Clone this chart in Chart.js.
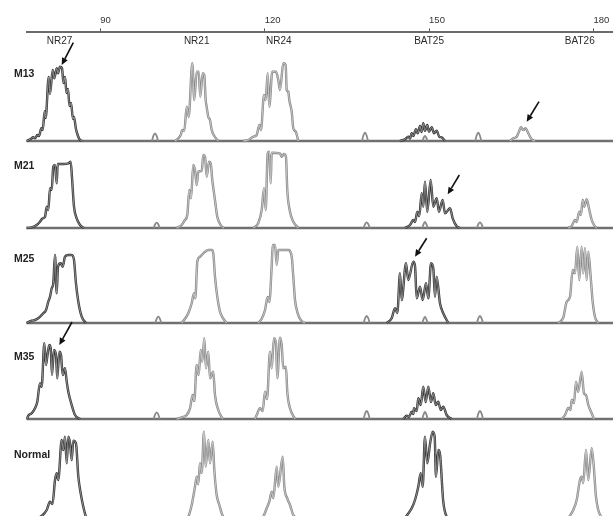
<!DOCTYPE html>
<html><head><meta charset="utf-8">
<script src="https://cdn.jsdelivr.net/npm/chart.js@4.4.1/dist/chart.umd.min.js"></script>
<style>
html,body{margin:0;padding:0;background:#fff;width:613px;height:516px;overflow:hidden;}
#wrap{position:relative;width:613px;height:516px;}
#wrap canvas{position:absolute;}
.lbl{position:absolute;left:14px;font:bold 10.5px "Liberation Sans",Arial,sans-serif;color:#222;line-height:12px;white-space:nowrap;}
</style></head><body><div id="wrap"></div>
<script>
// ---------- axis / labels ----------
const tickValues = [90, 120, 150, 180];
const markerNames = ['NR27', 'NR21', 'NR24', 'BAT25', 'BAT26'];
const markerPos = [82.6, 107.6, 122.6, 150.0, 177.5];
const panelNames = ['M13', 'M21', 'M25', 'M35', 'Normal'];

// ---------- traces: [size (bp), height] ----------
const M13_NR27 = [[76.51,0],[77.25,2],[77.72,3.7],[78.03,2.7],[78.45,6],[78.76,5],[79.18,12.7],[79.44,11],[79.80,29.7],[79.98,23],[80.53,64],[80.77,47],[81.26,71],[81.55,62.7],[81.99,72.7],[82.23,67.7],[82.59,74.3],[82.96,72.7],[83.23,58],[83.51,64],[83.78,48],[84.05,52],[84.33,35],[84.60,38],[84.97,22],[85.15,24],[85.51,12],[85.88,5],[86.25,1],[86.61,0]];
const M13_NR21 = [[103.59,0],[104.19,2.7],[104.63,6],[104.92,11],[105.29,10.3],[105.73,34.3],[106.09,24.3],[106.75,77.7],[107.11,41],[107.55,69.3],[107.92,69.3],[108.21,44.3],[108.65,67.7],[108.94,66],[109.19,41],[109.38,34],[109.67,24],[109.98,21],[110.29,11],[110.89,4],[111.50,0]];
const M13_NR24 = [[116.06,0],[116.97,1],[117.89,4.3],[118.51,6],[118.98,16],[119.29,11],[119.84,46],[120.15,41],[120.51,67.7],[120.81,34.3],[121.35,69.3],[122.03,69.3],[122.45,61],[122.76,51],[123.36,77.7],[123.80,76],[123.98,51],[124.28,49.3],[124.46,41],[124.90,29.3],[125.19,12.7],[125.63,9.3],[126.10,0]];
const M13_BAT25 = [[144.67,0],[145.58,1.7],[146.18,4.3],[146.49,2.5],[146.80,7.7],[147.10,5],[147.59,11.7],[147.90,7.7],[148.32,15],[148.63,9],[148.92,17.7],[149.23,10.3],[149.65,16],[149.96,9.3],[150.46,13.7],[150.88,7.7],[151.37,10.3],[151.84,4.3],[152.28,3.7],[152.88,0]];
const M13_BAT26 = [[164.75,0],[165.35,2.7],[165.97,4.3],[166.39,9.3],[166.76,13.7],[167.18,11],[167.61,12.7],[168.09,7.7],[168.71,1.7],[169.32,0]];
const M13_LADDER = [[[99.39,0],[99.66,5.4],[99.94,7.7],[100.22,5.4],[100.49,0]],[[137.73,0],[138.00,5.8],[138.28,8.3],[138.56,5.8],[138.83,0]],[[148.78,0],[149.01,3.5],[149.23,5],[149.45,3.5],[149.68,0]],[[158.41,0],[158.68,5.8],[158.96,8.3],[159.24,5.8],[159.51,0]]];
const M13_ARROWS = [[85.02,98.3,82.90,76],[170.05,39.3,167.80,19.3]];

const M21_NR27 = [[76.51,0],[77.43,0.7],[78.34,3],[78.94,6.3],[79.44,9.7],[79.86,11.3],[80.17,21.3],[80.46,18],[80.77,39.7],[81.08,38],[81.37,61.3],[81.68,63],[81.99,44.7],[82.17,64],[83.20,64],[84.11,64.7],[84.55,66.3],[84.79,50],[85.15,21.3],[85.64,9.7],[86.25,3],[86.98,0]];
const M21_NR21 = [[103.90,0],[104.81,3],[105.42,8],[105.84,13],[106.20,38],[106.51,29.7],[106.93,63],[107.24,58],[107.55,43],[107.84,56.3],[108.47,57.3],[108.76,73],[109.07,71.3],[109.38,51.3],[109.80,66.3],[110.11,64.7],[110.40,48],[110.89,28],[111.31,11.3],[111.93,3],[112.54,0]];
const M21_NR24 = [[117.89,0],[118.80,5],[119.42,18],[119.84,39.7],[120.15,18],[120.51,74.7],[120.81,76.3],[121.06,44.7],[121.24,75.3],[122.76,74.7],[123.07,71.3],[123.49,74],[123.85,71.3],[124.09,38],[124.59,16.3],[125.19,6.3],[126.10,0]];
const M21_BAT25 = [[145.58,0],[146.49,3],[147.10,8],[147.41,6],[147.83,16.3],[148.19,12],[148.63,34.7],[148.92,21.3],[149.23,46.3],[149.65,16.3],[150.27,48],[150.75,21.3],[151.37,29.7],[151.79,16.3],[152.46,28],[152.88,14.7],[153.80,19.7],[154.29,9.7],[155.02,1.7],[155.62,0]];
const M21_BAT26 = [[175.40,0],[176.02,2],[176.62,8],[176.93,6],[177.40,16.3],[177.71,13],[178.02,28],[178.32,21.3],[178.75,28.7],[179.17,19.7],[179.67,8],[180.09,3],[180.58,0]];
const M21_LADDER = [[[99.70,0],[99.97,3.7],[100.25,5.3],[100.53,3.7],[100.80,0]],[[138.04,0],[138.31,4],[138.59,5.7],[138.87,4],[139.14,0]],[[148.73,0],[149.00,4.2],[149.23,6],[149.46,4.2],[149.73,0]],[[158.72,0],[158.99,4],[159.27,5.7],[159.55,4],[159.82,0]]];
const M21_ARROWS = [[155.50,53,153.38,33.7]];

const M25_NR27 = [[76.51,0],[77.43,2.3],[78.03,3],[78.63,4.7],[79.07,7],[79.55,9.7],[80.04,13],[80.46,21.3],[80.77,26.3],[81.08,34.7],[81.37,39.7],[81.68,68],[81.99,29.7],[82.23,56.3],[82.72,59.7],[83.09,56.3],[83.51,66.3],[84.11,68],[84.73,68],[85.15,63],[85.51,39.7],[85.94,21.3],[86.56,6.3],[87.34,0]];
const M25_NR21 = [[104.81,0],[105.42,4.3],[106.02,9.7],[106.64,19.7],[107.06,29.7],[107.30,24.7],[107.66,61.3],[108.15,66.3],[108.76,69.7],[109.67,73],[110.29,73],[110.58,69.7],[110.89,46.3],[111.31,26.3],[111.81,11.3],[112.41,4.3],[113.03,0]];
const M25_NR24 = [[118.80,0],[119.42,4.3],[120.02,12.7],[120.51,26],[120.81,21],[121.24,56.3],[121.43,78],[121.85,78],[122.16,58],[122.45,73],[124.28,73],[124.90,66.3],[125.19,46.3],[125.50,23],[125.99,9.7],[126.59,2.7],[127.32,0]];
const M25_BAT25 = [[142.24,0],[143.15,4.7],[143.76,14.7],[144.18,10],[144.67,49.7],[144.98,23],[145.76,59.7],[146.18,43],[147.10,61.3],[147.41,57],[147.72,24.7],[148.32,36.3],[148.81,23],[149.42,39.7],[149.84,24.7],[150.33,59.7],[150.75,54.7],[151.06,26.3],[151.37,46.3],[151.97,19.7],[152.57,9.7],[153.49,0]];
const M25_BAT26 = [[173.57,0],[174.48,5.3],[175.10,21.3],[175.71,26.3],[176.20,53],[176.62,49.7],[177.04,76.3],[177.40,43],[177.84,76.3],[178.13,49.7],[178.44,74.7],[178.75,43],[179.05,71.3],[179.48,46.3],[179.85,21.3],[180.27,6],[180.87,0]];
const M25_LADDER = [[[99.99,0],[100.26,4.4],[100.54,6.3],[100.82,4.4],[101.09,0]],[[138.04,0],[138.31,4.9],[138.59,7],[138.87,4.9],[139.14,0]],[[148.73,0],[149.00,4.2],[149.23,6],[149.46,4.2],[149.73,0]],[[158.72,0],[158.99,4.9],[159.27,7],[159.55,4.9],[159.82,0]]];
const M25_ARROWS = [[149.54,84.7,147.41,66.3]];

const M35_NR27 = [[76.57,0],[76.81,3.3],[77.43,5.7],[78.03,10.7],[78.45,17.3],[78.94,35.7],[79.25,32.3],[79.73,75.7],[80.04,54],[80.35,65.7],[80.64,74],[80.90,70.7],[81.13,44],[81.50,69],[81.86,64],[82.10,40.7],[82.47,67.3],[82.78,64],[83.09,44],[83.51,50.7],[83.82,37.3],[84.11,27.3],[84.73,14],[85.33,4],[86.25,0]];
const M35_NR21 = [[103.90,0],[104.81,1.7],[105.73,4],[106.33,10.7],[106.82,24],[107.11,18],[107.55,54],[107.92,44],[108.28,69],[108.57,57.3],[108.94,80.7],[109.25,50.7],[109.67,67.3],[109.98,40.7],[110.58,47.3],[110.89,24],[111.50,9],[112.30,0]];
const M35_NR24 = [[118.19,0],[118.51,4],[119.11,10.7],[119.60,8],[120.02,27.3],[120.39,20],[120.93,67.3],[121.24,50.7],[121.66,80.7],[122.03,75.7],[122.27,40.7],[122.76,81.3],[123.07,74],[123.36,50.7],[123.85,52.3],[124.09,27.3],[124.59,10.7],[125.50,0]];
const M35_BAT25 = [[145.27,0],[145.89,3.3],[146.31,2],[146.80,7.3],[147.10,5],[147.22,10.7],[147.72,8],[148.01,20.7],[148.45,14],[148.92,32.3],[149.36,17],[149.84,32.3],[150.33,17],[150.75,25.7],[151.19,14],[151.66,17.3],[152.10,9],[152.57,12.3],[153.19,4],[154.11,0]];
const M35_BAT26 = [[174.19,0],[174.79,4],[175.40,11],[175.80,9],[176.02,19.3],[176.44,16],[176.80,37.3],[177.22,27.3],[177.84,47.3],[178.26,25.7],[178.63,24],[179.05,14],[179.67,5.7],[180.09,0]];
const M35_LADDER = [[[99.70,0],[99.97,4.7],[100.25,6.7],[100.53,4.7],[100.80,0]],[[138.04,0],[138.31,5.6],[138.59,8],[138.87,5.6],[139.14,0]],[[148.73,0],[149.00,4.9],[149.23,7],[149.46,4.9],[149.73,0]],[[158.72,0],[158.99,5.6],[159.27,8],[159.55,5.6],[159.82,0]]];
const M35_ARROWS = [[84.79,97,82.47,74]];

const NORMAL_NR27 = [[78.63,0],[79.25,2],[80.17,8],[80.77,16.3],[81.23,14],[81.68,38],[81.99,44.7],[82.28,38],[82.90,78],[83.20,68],[83.51,81.3],[83.82,54.7],[84.11,81.3],[84.42,75],[84.73,58],[85.02,77.3],[85.51,74.7],[85.94,41.3],[86.43,23],[86.85,11.3],[87.34,1.3],[87.58,0]];
const NORMAL_NR21 = [[105.78,0],[106.02,1.3],[106.64,13],[107.24,31.3],[107.55,41.3],[107.84,34],[108.15,54.7],[108.47,45],[108.88,86.3],[109.19,51.3],[109.67,78],[109.98,54.7],[110.47,76.3],[110.77,48],[111.20,23],[111.68,13],[112.12,4.7],[112.54,0]];
const NORMAL_NR24 = [[119.47,0],[119.71,1.3],[120.33,9.7],[120.81,16.3],[121.24,26.3],[121.54,20],[122.16,51.3],[122.45,31.3],[123.25,61.3],[123.55,31.3],[124.09,19.7],[124.59,13],[125.19,3],[125.81,0]];
const NORMAL_BAT25 = [[145.58,0],[146.80,9.7],[147.41,18],[148.01,31.3],[148.45,44.7],[148.81,31.3],[149.23,81.3],[149.65,54.7],[150.15,74],[150.64,86.3],[151.00,81.3],[151.24,41.3],[151.66,68],[151.97,64],[152.57,16.3],[153.19,1.3],[153.49,0]];
const NORMAL_BAT26 = [[175.40,0],[176.31,8],[176.93,18],[177.53,38],[177.84,41.3],[178.13,35],[178.63,68],[179.05,38],[179.67,69.7],[180.00,55],[180.45,21.3],[180.87,8],[181.49,0]];
const NORMAL_LADDER = [];
const NORMAL_ARROWS = [];

const BASELINE = [[76.46,0],[183.56,0]];

// ---------- layout (page geometry) ----------
const VIEW_MIN = 71.64, VIEW_MAX = 183.56;   // size at left / right page edge
const AXIS_MIN = 76.46;                       // where the size axis starts
const PANEL_BASE_Y = [141, 228, 323, 419, 518];
const PANEL_LABEL_Y = [67, 159, 252, 350, 448];
const Y_LOW = -3, Y_HIGH = 109;               // 1 unit = 1 px

const panels = [
  {dark:[M13_NR27, M13_BAT25], gray:[M13_NR21, M13_NR24, M13_BAT26], ladder:M13_LADDER, arrows:M13_ARROWS},
  {dark:[M21_NR27, M21_BAT25], gray:[M21_NR21, M21_NR24, M21_BAT26], ladder:M21_LADDER, arrows:M21_ARROWS},
  {dark:[M25_NR27, M25_BAT25], gray:[M25_NR21, M25_NR24, M25_BAT26], ladder:M25_LADDER, arrows:M25_ARROWS},
  {dark:[M35_NR27, M35_BAT25], gray:[M35_NR21, M35_NR24, M35_BAT26], ladder:M35_LADDER, arrows:M35_ARROWS},
  {dark:[NORMAL_NR27, NORMAL_BAT25], gray:[NORMAL_NR21, NORMAL_NR24, NORMAL_BAT26], ladder:NORMAL_LADDER, arrows:NORMAL_ARROWS}
];

function seg(list) {
  const out = [];
  list.forEach((a, i) => {
    if (i) out.push({x: a[0][0], y: null});
    a.forEach(p => out.push({x: p[0], y: p[1]}));
  });
  return out;
}

const wrap = document.getElementById('wrap');
function mkCanvas(left, top, w, h) {
  const c = document.createElement('canvas');
  c.width = w; c.height = h;
  c.style.left = left + 'px'; c.style.top = top + 'px';
  c.style.width = w + 'px'; c.style.height = h + 'px';
  wrap.appendChild(c);
  return c;
}

const FONT = "'Liberation Sans', Arial, sans-serif";

// ---------- top size axis ----------
const markerLabelPlugin = {
  id: 'markerLabels',
  afterDraw(chart) {
    const ctx = chart.ctx, xs = chart.scales.x;
    ctx.save();
    ctx.font = '10px ' + FONT;
    ctx.fillStyle = '#2a2a2a';
    ctx.textAlign = 'center';
    ctx.textBaseline = 'middle';
    markerNames.forEach((n, i) => ctx.fillText(n, xs.getPixelForValue(markerPos[i]), chart.chartArea.top + 9));
    ctx.restore();
  }
};
const axisCanvas = mkCanvas(26, 0, 587, 52);
new Chart(axisCanvas, {
  type: 'line',
  data: {datasets: []},
  options: {
    responsive: false, animation: false, events: [],
    layout: {padding: {top: 13, left: 0, right: 0, bottom: 0}},
    plugins: {legend: {display: false}, tooltip: {enabled: false}},
    scales: {
      x: {
        type: 'linear', position: 'top', min: AXIS_MIN, max: VIEW_MAX,
        afterBuildTicks: s => { s.ticks = tickValues.map(v => ({value: v})); },
        ticks: {align: 'start', padding: 2, autoSkip: false, maxRotation: 0, color: '#333', font: {family: FONT, size: 9.5}},
        grid: {drawOnChartArea: false, drawTicks: true, tickLength: 4, color: '#555', tickWidth: 1},
        border: {display: true, color: '#6a6a6a', width: 2}
      },
      y: {display: false}
    }
  },
  plugins: [markerLabelPlugin]
});

// ---------- panels ----------
const arrowPlugin = {
  id: 'arrows',
  afterDatasetsDraw(chart, args, opts) {
    const ctx = chart.ctx, xs = chart.scales.x, ys = chart.scales.y;
    ctx.save();
    ctx.strokeStyle = '#111'; ctx.fillStyle = '#111'; ctx.lineWidth = 1.6;
    (opts.list || []).forEach(a => {
      const x0 = xs.getPixelForValue(a[0]), y0 = ys.getPixelForValue(a[1]);
      const x1 = xs.getPixelForValue(a[2]), y1 = ys.getPixelForValue(a[3]);
      const ang = Math.atan2(y1 - y0, x1 - x0), L = 7, W = 3.2;
      const bx = x1 - L * Math.cos(ang), by = y1 - L * Math.sin(ang);
      ctx.beginPath(); ctx.moveTo(x0, y0); ctx.lineTo(bx, by); ctx.stroke();
      ctx.beginPath();
      ctx.moveTo(x1, y1);
      ctx.lineTo(bx + W * Math.sin(ang), by - W * Math.cos(ang));
      ctx.lineTo(bx - W * Math.sin(ang), by + W * Math.cos(ang));
      ctx.closePath(); ctx.fill();
    });
    ctx.restore();
  }
};

panels.forEach((p, i) => {
  const c = mkCanvas(0, PANEL_BASE_Y[i] - Y_HIGH, 613, Y_HIGH - Y_LOW);
  const dark = seg(p.dark), gray = seg(p.gray), lad = seg(p.ladder);
  const base = seg([BASELINE]);
  const smooth = {cubicInterpolationMode: 'monotone'};
  new Chart(c, {
    type: 'line',
    data: {datasets: [
      Object.assign({data: dark, borderColor: '#a8a8a8', borderWidth: 0.8}, smooth),
      Object.assign({data: dark, borderColor: '#333333', borderWidth: 2.4}, smooth),
      Object.assign({data: gray, borderColor: '#d6d6d6', borderWidth: 0.8}, smooth),
      Object.assign({data: gray, borderColor: '#888888', borderWidth: 2.4}, smooth),
      {data: lad, borderColor: '#8a8a8a', borderWidth: 1.8, tension: 0.4},
      {data: base, borderColor: '#707070', borderWidth: 2.4}
    ]},
    options: {
      responsive: false, animation: false, events: [],
      layout: {padding: 0},
      datasets: {line: {pointRadius: 0, spanGaps: false, tension: 0, fill: false}},
      plugins: {legend: {display: false}, tooltip: {enabled: false}, arrows: {list: p.arrows}},
      scales: {
        x: {type: 'linear', min: VIEW_MIN, max: VIEW_MAX, display: false},
        y: {min: Y_LOW, max: Y_HIGH, display: false}
      }
    },
    plugins: [arrowPlugin]
  });
  const d = document.createElement('div');
  d.className = 'lbl';
  d.style.top = PANEL_LABEL_Y[i] + 'px';
  d.textContent = panelNames[i];
  wrap.appendChild(d);
});
</script>
</body></html>
